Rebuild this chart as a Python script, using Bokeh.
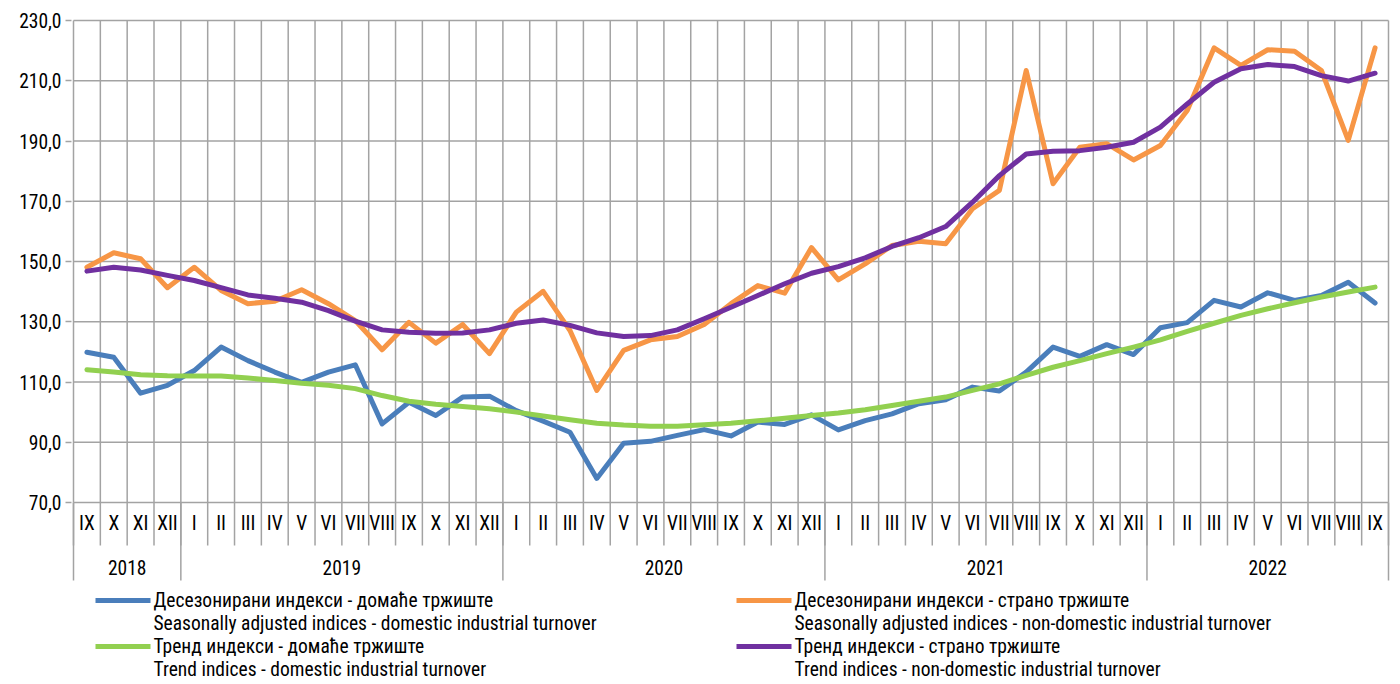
from bokeh.plotting import figure
from bokeh.models import Range1d, FixedTicker
from bokeh.embed import file_html
from bokeh.resources import INLINE
from bokeh.core.properties import value

# ---------------- data ----------------
month_labels = ["IX", "X", "XI", "XII",
                "I", "II", "III", "IV", "V", "VI", "VII", "VIII", "IX", "X", "XI", "XII",
                "I", "II", "III", "IV", "V", "VI", "VII", "VIII", "IX", "X", "XI", "XII",
                "I", "II", "III", "IV", "V", "VI", "VII", "VIII", "IX", "X", "XI", "XII",
                "I", "II", "III", "IV", "V", "VI", "VII", "VIII", "IX"]
year_labels = ["2018", "2019", "2020", "2021", "2022"]
months_per_year = [4, 12, 12, 12, 9]

sa_domestic = [119.9, 118.2, 106.3, 108.9,
               113.8, 121.6, 117.1, 113.3, 109.9, 113.3, 115.7, 96.1, 103.3, 98.9, 105.0, 105.3,
               100.5, 97.0, 93.3, 78.0, 89.7, 90.3, 92.3, 94.2, 92.1, 96.7, 95.9, 99.1,
               94.1, 97.2, 99.4, 102.8, 104.1, 108.3, 107.0, 113.3, 121.6, 118.5, 122.4, 119.1,
               128.0, 129.7, 137.1, 134.9, 139.6, 137.1, 138.7, 143.1, 136.2]
sa_foreign = [148.1, 152.9, 150.9, 141.3,
              148.1, 140.4, 136.0, 136.8, 140.6, 136.0, 130.4, 120.7, 129.8, 122.9, 129.1, 119.4,
              133.2, 140.1, 127.1, 107.2, 120.5, 124.0, 125.1, 129.1, 136.0, 142.0, 139.5, 154.6,
              143.9, 149.2, 155.3, 156.7, 155.9, 167.5, 173.6, 213.4, 175.8, 187.9, 189.1, 183.7,
              188.5, 200.1, 220.9, 215.1, 220.3, 219.8, 213.4, 190.2, 220.9]
trend_domestic = [114.1, 113.3, 112.4, 112.1,
                  112.0, 112.0, 111.3, 110.5, 109.6, 108.9, 107.8, 105.5, 103.6, 102.6, 101.9, 101.1,
                  100.0, 98.7, 97.5, 96.3, 95.7, 95.3, 95.3, 95.8, 96.3, 97.1, 98.0, 98.9,
                  99.7, 100.8, 102.2, 103.6, 105.0, 107.2, 109.4, 112.2, 114.9, 117.1, 119.4, 121.6,
                  124.0, 126.8, 129.5, 132.1, 134.3, 136.3, 138.2, 139.9, 141.5]
trend_foreign = [146.8, 148.1, 147.2, 145.4,
                 143.7, 141.3, 138.9, 137.8, 136.5, 133.7, 130.2, 127.3, 126.5, 126.2, 126.3, 127.3,
                 129.5, 130.6, 128.8, 126.3, 125.1, 125.4, 127.3, 131.0, 134.8, 138.7, 142.6, 146.1,
                 148.3, 151.2, 155.0, 157.9, 161.6, 169.7, 178.5, 185.7, 186.6, 186.8, 187.9, 189.6,
                 194.6, 202.3, 209.5, 214.0, 215.4, 214.7, 211.7, 209.9, 212.5]

y_ticks = [70, 90, 110, 130, 150, 170, 190, 210, 230]
y_tick_labels = ["70,0", "90,0", "110,0", "130,0", "150,0", "170,0", "190,0", "210,0", "230,0"]

legend_cyr = ["Десезонирани индекси - домаће тржиште", "Десезонирани индекси - страно тржиште",
              "Тренд индекси - домаће тржиште", "Тренд индекси - страно тржиште"]
legend_eng = ["Seasonally adjusted indices - domestic industrial turnover",
              "Seasonally adjusted indices - non-domestic industrial turnover",
              "Trend indices - domestic industrial turnover",
              "Trend indices - non-domestic industrial turnover"]

# ---------------- styling / layout ----------------
FONT = "'Liberation Sans Narrow', 'Arial Narrow', 'Roboto Condensed', 'DejaVu Sans Condensed', sans-serif"
FS = "19.5px"
C_BLUE, C_ORANGE, C_GREEN, C_PURPLE = "#4A7EBB", "#F79646", "#92D050", "#7030A0"
GRID = "#a3a3a3"
LW = 5

n = len(month_labels)
# pixel geometry of the frame (figure placed at the page's top-left corner)
L, R, T, B = 71, 1390, 16, 684
X0PX, X1PX = 73, 1388          # x=0 and x=n
Y70PX, Y230PX = 502, 20        # y=70 and y=230
ppu_y = (Y70PX - Y230PX) / (y_ticks[-1] - y_ticks[0])
ppu_x = (X1PX - X0PX) / n

p = figure(width=R + 2, height=B,
           x_range=Range1d(-(X0PX - L) / ppu_x, n + (R - X1PX) / ppu_x),
           y_range=Range1d(y_ticks[0] - (B - Y70PX) / ppu_y, y_ticks[-1] + (Y230PX - T) / ppu_y),
           x_axis_location=None, toolbar_location=None, output_backend="svg",
           min_border_left=L, min_border_right=2, min_border_top=T, min_border_bottom=0)
p.extra_y_ranges = {"px": Range1d(start=B, end=T)}
p.extra_x_ranges = {"px": Range1d(start=L, end=R)}
p.outline_line_color = None
p.xgrid.visible = False
p.ygrid.visible = False
p.background_fill_color = "white"
p.border_fill_color = "white"

ax = p.yaxis[0]
ax.ticker = FixedTicker(ticks=y_ticks)
ax.major_label_overrides = {t: s for t, s in zip(y_ticks, y_tick_labels)}
ax.axis_line_color = None
ax.major_tick_line_color = GRID
ax.major_tick_line_width = 1.5
ax.major_tick_out = 6
ax.major_tick_in = 0
ax.minor_tick_line_color = None
ax.major_label_standoff = 4
ax.major_label_text_font = FONT
ax.major_label_text_font_size = FS
ax.major_label_text_color = "black"

# grid
p.segment(x0=[0] * len(y_ticks), y0=y_ticks, x1=[n] * len(y_ticks), y1=y_ticks,
          line_color=GRID, line_width=1.5)
vx = list(range(n + 1))
p.segment(x0=vx, y0=[y_ticks[0]] * len(vx), x1=vx, y1=[y_ticks[-1]] * len(vx),
          line_color=GRID, line_width=1.5)

xs = [i + 0.5 for i in range(n)]
p.line(xs, sa_domestic, line_color=C_BLUE, line_width=LW, line_join="round", line_cap="round")
p.line(xs, sa_foreign, line_color=C_ORANGE, line_width=LW, line_join="round", line_cap="round")
p.line(xs, trend_domestic, line_color=C_GREEN, line_width=LW, line_join="round", line_cap="round")
p.line(xs, trend_foreign, line_color=C_PURPLE, line_width=LW, line_join="round", line_cap="round")

# category table below the plot
p.segment(x0=vx, y0=[Y70PX] * len(vx), x1=vx, y1=[545] * len(vx),
          line_color=GRID, line_width=1.5, y_range_name="px")
bounds = [0]
for m in months_per_year:
    bounds.append(bounds[-1] + m)
p.segment(x0=bounds, y0=[Y70PX] * len(bounds), x1=bounds, y1=[580] * len(bounds),
          line_color=GRID, line_width=1.5, y_range_name="px")
p.text(x=xs, y=[523] * n, text=month_labels, y_range_name="px",
       text_font=value(FONT), text_font_size=value(FS), text_color="black",
       text_align="center", text_baseline="middle")
ycent = [(bounds[i] + bounds[i + 1]) / 2 for i in range(len(year_labels))]
p.text(x=ycent, y=[567] * len(year_labels), text=year_labels, y_range_name="px",
       text_font=value(FONT), text_font_size=value(FS), text_color="black",
       text_align="center", text_baseline="middle")

# legend (two columns, bilingual entries)
leg_colors = [C_BLUE, C_ORANGE, C_GREEN, C_PURPLE]
col_x = [95, 736]
row_y = [600, 646]
for k in range(4):
    cx = col_x[k % 2]
    ry = row_y[k // 2]
    p.segment(x0=[cx], y0=[ry], x1=[cx + 55], y1=[ry], line_color=leg_colors[k], line_width=LW,
              x_range_name="px", y_range_name="px")
    p.text(x=[cx + 58, cx + 58], y=[ry, ry + 23], text=[legend_cyr[k], legend_eng[k]],
           x_range_name="px", y_range_name="px",
           text_font=value(FONT), text_font_size=value(FS), text_color="black",
           text_align="left", text_baseline="middle")

open("out.html", "w").write(file_html(p, INLINE))
